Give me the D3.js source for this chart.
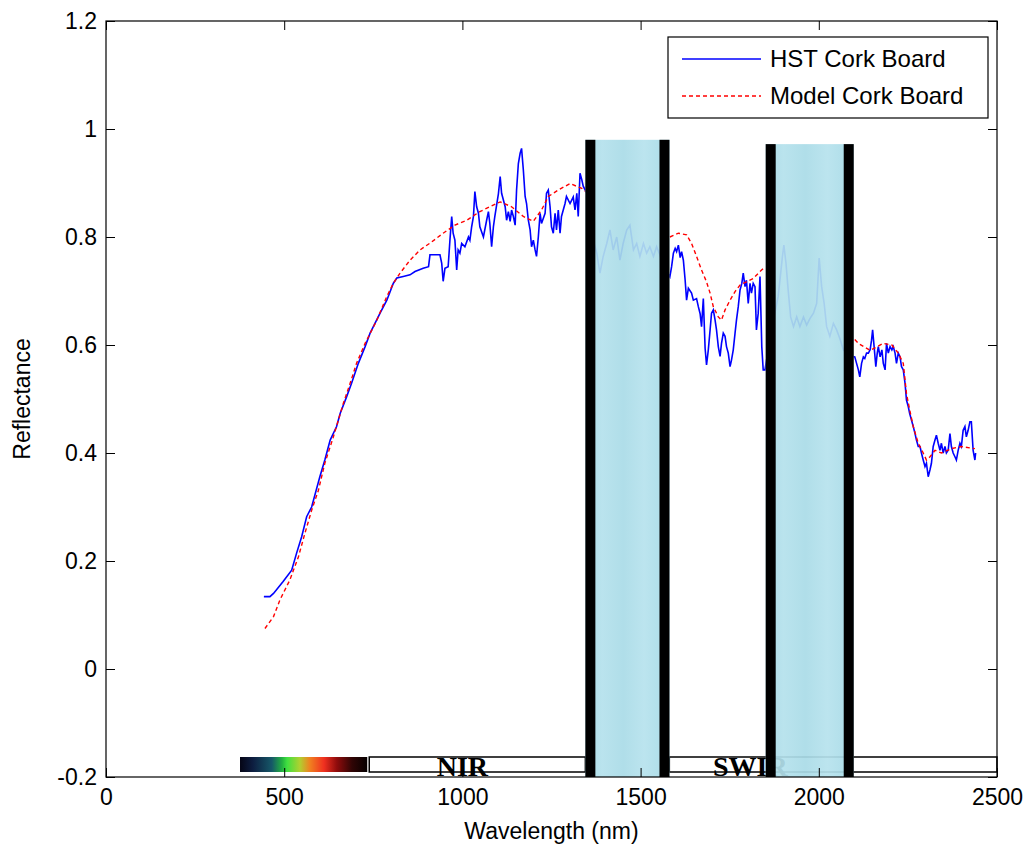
<!DOCTYPE html>
<html>
<head>
<meta charset="utf-8">
<script src="https://cdn.jsdelivr.net/npm/d3@7"></script>
<style>
  body { margin: 0; background: #fff; }
  svg text { font-family: "Liberation Sans", Arial, sans-serif; }
</style>
</head>
<body>
<div class="chart"></div>
<script>
// measured spectrum (HST) - wavelength in nm, reflectance
const hstWl = [443,460,470,497,521,535,549,563,577,600,614,629,647,657,675,689,708,727,741,769,788,806,816,834,853,867,890,905,909,937,942,946,951,960,965,970,974,979,984,988,993,998,1007,1017,1021,1026,1031,1035,1040,1045,1049,1059,1068,1073,1077,1082,1087,1091,1096,1101,1106,1110,1120,1124,1129,1134,1138,1143,1148,1152,1157,1162,1166,1171,1176,1180,1185,1190,1194,1199,1204,1208,1213,1218,1222,1232,1236,1241,1246,1250,1255,1260,1264,1269,1274,1278,1288,1292,1302,1311,1316,1321,1325,1330,1335,1339,1350,1365,
  1377,1386,1395,1405,1414,1423,1433,1442,1451,1461,1470,1480,1489,1498,1508,1517,1526,1536,1545,1554,1570,
  1582,1587,1592,1597,1601,1606,1611,1615,1620,1625,1629,1634,1643,1648,1657,1662,1667,1671,1676,1681,1685,1690,1695,1699,1704,1709,1713,1718,1723,1727,1732,1737,1741,1746,1751,1755,1760,1765,1769,1774,1779,1784,1788,1793,1797,1802,1807,1811,1816,1821,1825,1830,1835,1840,1844,1849,1865,
  1886,1891,1898,1902,1908,1914,1921,1929,1938,1947,1957,1966,1975,1985,1994,2001,2008,2015,2022,2031,2041,2050,2059,2069,2085,
  2101,2106,2111,2115,2120,2125,2129,2134,2139,2144,2148,2151,2156,2160,2164,2167,2172,2177,2181,2186,2190,2195,2200,2205,2209,2214,2218,2223,2228,2232,2237,2242,2246,2251,2255,2260,2265,2270,2274,2279,2284,2288,2293,2298,2302,2307,2312,2316,2321,2326,2330,2335,2340,2344,2349,2354,2358,2363,2368,2372,2377,2382,2386,2391,2396,2400,2405,2410,2414,2419,2424,2428,2433,2438,2440];
const hstRefl = [0.134,0.134,0.14,0.162,0.183,0.215,0.245,0.282,0.30,0.356,0.387,0.424,0.449,0.473,0.504,0.529,0.566,0.597,0.622,0.659,0.683,0.714,0.724,0.727,0.73,0.736,0.742,0.745,0.767,0.767,0.751,0.718,0.742,0.745,0.794,0.838,0.807,0.794,0.739,0.776,0.77,0.788,0.782,0.80,0.794,0.819,0.838,0.884,0.856,0.844,0.819,0.80,0.831,0.847,0.825,0.782,0.819,0.838,0.859,0.88,0.912,0.881,0.856,0.831,0.847,0.829,0.85,0.838,0.822,0.887,0.936,0.955,0.964,0.924,0.875,0.862,0.831,0.813,0.782,0.794,0.776,0.764,0.80,0.844,0.825,0.844,0.881,0.887,0.856,0.819,0.807,0.844,0.813,0.85,0.807,0.838,0.862,0.875,0.862,0.874,0.85,0.881,0.838,0.918,0.906,0.894,0.88,0.80,
  0.77,0.733,0.764,0.788,0.813,0.776,0.80,0.757,0.788,0.813,0.822,0.776,0.788,0.764,0.788,0.77,0.782,0.764,0.782,0.767,0.74,
  0.726,0.745,0.77,0.779,0.773,0.785,0.762,0.773,0.757,0.72,0.683,0.705,0.696,0.683,0.686,0.671,0.658,0.634,0.686,0.594,0.563,0.591,0.628,0.659,0.665,0.646,0.628,0.597,0.579,0.603,0.622,0.616,0.597,0.585,0.56,0.572,0.591,0.622,0.646,0.671,0.702,0.714,0.733,0.708,0.72,0.677,0.714,0.696,0.714,0.708,0.628,0.659,0.727,0.597,0.554,0.554,0.62,
  0.69,0.72,0.764,0.785,0.751,0.702,0.652,0.634,0.652,0.634,0.652,0.637,0.649,0.659,0.677,0.761,0.708,0.677,0.634,0.616,0.64,0.628,0.612,0.591,0.58,
  0.578,0.566,0.554,0.541,0.566,0.578,0.575,0.585,0.585,0.591,0.609,0.628,0.591,0.56,0.585,0.597,0.578,0.591,0.566,0.554,0.603,0.585,0.597,0.591,0.597,0.585,0.566,0.585,0.578,0.56,0.554,0.529,0.498,0.486,0.473,0.461,0.449,0.436,0.424,0.412,0.412,0.40,0.387,0.375,0.381,0.356,0.369,0.381,0.412,0.424,0.433,0.418,0.405,0.418,0.40,0.412,0.40,0.405,0.436,0.412,0.40,0.393,0.387,0.405,0.418,0.412,0.442,0.449,0.43,0.442,0.458,0.458,0.405,0.387,0.40];

// model spectrum, null = not plotted (water bands)
const modelWl = [446,470,488,516,540,558,577,596,614,638,666,685,703,727,760,788,806,825,853,881,914,946,979,1012,1049,1077,1106,1138,1171,1199,1222,1241,1269,1302,1335,1345,1460,
  1582,1606,1629,1643,1657,1671,1685,1695,1704,1718,1727,1737,1751,1765,1779,1797,1816,1835,1845,1970,
  2101,2111,2144,2181,2205,2223,2237,2246,2255,2265,2279,2293,2302,2312,2326,2344,2372,2400,2438];
const modelRefl = [0.075,0.097,0.128,0.165,0.208,0.251,0.294,0.331,0.381,0.43,0.492,0.529,0.566,0.603,0.646,0.69,0.714,0.733,0.757,0.776,0.791,0.807,0.822,0.831,0.847,0.856,0.865,0.856,0.838,0.829,0.85,0.875,0.887,0.899,0.89,0.885,null,
  0.80,0.807,0.804,0.788,0.764,0.739,0.717,0.696,0.671,0.652,0.646,0.665,0.683,0.699,0.711,0.717,0.723,0.736,0.742,null,
  0.61,0.603,0.59,0.603,0.60,0.585,0.566,0.51,0.48,0.449,0.418,0.40,0.387,0.393,0.405,0.40,0.408,0.412,0.408];

// water absorption bands [start nm, end nm, top reflectance]
const bandStart = [1345, 1851];
const bandEnd = [1581, 2098];
const bandTop = [0.98, 0.972];

// spectral region boxes along the bottom
const visRange = [376, 733];
const nirRange = [733, 1345];
const swirRange = [1575, 2500];

const xTicks = [0, 500, 1000, 1500, 2000, 2500];
const yTicks = [-0.2, 0, 0.2, 0.4, 0.6, 0.8, 1, 1.2];
const seriesNames = ["HST Cork Board", "Model Cork Board"];

let svg, xScale, yScale;
const W = 1027, H = 848;
const mL = 106, mR = 997, mT = 21, mB = 777;

const createSVG = () => {
  svg = d3.select(".chart").append("svg")
    .attr("width", W).attr("height", H);
  svg.append("rect").attr("width", W).attr("height", H).attr("fill", "#fff");

  const defs = svg.append("defs");
  const spec = defs.append("linearGradient").attr("id", "spectrum");
  [[0, "#050515"], [0.1, "#0d1d40"], [0.25, "#165868"], [0.33, "#22b040"], [0.37, "#40e040"],
   [0.47, "#b0d030"], [0.55, "#f08020"], [0.66, "#f03020"], [0.76, "#900c0c"], [0.88, "#300505"], [1, "#050000"]]
    .forEach(s => spec.append("stop").attr("offset", s[0]).attr("stop-color", s[1]));
  const water = defs.append("linearGradient").attr("id", "water");
  [[0, "#a3d8e5"], [0.2, "#b4e1ec"], [0.45, "#a9dbe7"], [0.7, "#b6e2ed"], [1, "#a4d9e6"]]
    .forEach(s => water.append("stop").attr("offset", s[0]).attr("stop-color", s[1]));
}

const createScales = () => {
  xScale = d3.scaleLinear().domain([0, 2500]).range([mL, mR]);
  yScale = d3.scaleLinear().domain([-0.2, 1.2]).range([mB, mT]);
}

const createRegions = () => {
  const g = svg.append("g").attr("class", "regions");
  const ry = 757, rh = 15;
  g.append("rect")
    .attr("x", xScale(visRange[0])).attr("y", ry)
    .attr("width", xScale(visRange[1]) - xScale(visRange[0])).attr("height", rh)
    .attr("fill", "url(#spectrum)");
  [nirRange, swirRange].forEach(r => {
    g.append("rect")
      .attr("x", xScale(r[0]) + 2).attr("y", ry)
      .attr("width", xScale(r[1]) - xScale(r[0]) - 2).attr("height", rh)
      .attr("fill", "#fff").attr("stroke", "#000").attr("stroke-width", 1.5);
  });
  g.append("text")
    .attr("x", xScale(1000)).attr("y", 776)
    .attr("text-anchor", "middle")
    .style("font-family", "'Liberation Serif', 'Times New Roman', serif")
    .style("font-weight", "bold").style("font-size", "28px")
    .text("NIR");
  g.append("text")
    .attr("x", 713).attr("y", 776)
    .style("font-family", "'Liberation Serif', 'Times New Roman', serif")
    .style("font-weight", "bold").style("font-size", "28px")
    .text("SWIR");
}

const createLines = () => {
  const hst = hstWl.map((w, i) => [w, hstRefl[i]]);
  const model = modelWl.map((w, i) => [w, modelRefl[i]]);
  const line = d3.line()
    .defined(d => d[1] != null)
    .x(d => xScale(d[0])).y(d => yScale(d[1]));

  svg.append("path").datum(hst)
    .attr("d", line).attr("fill", "none")
    .attr("stroke", "#0000ff").attr("stroke-width", 1.6)
    .attr("stroke-linejoin", "miter");
  svg.append("path").datum(model)
    .attr("d", line).attr("fill", "none")
    .attr("stroke", "#ff0000").attr("stroke-width", 1.4)
    .attr("stroke-dasharray", "4,3");
}

const createBands = () => {
  const edge = 10;
  bandStart.forEach((s, i) => {
    const x0 = xScale(s), x1 = xScale(bandEnd[i]), yt = yScale(bandTop[i]);
    const g = svg.append("g").attr("class", "band");
    g.append("rect")
      .attr("x", x0).attr("y", yt).attr("width", x1 - x0).attr("height", mB - yt)
      .attr("fill", "url(#water)").attr("fill-opacity", 0.92);
    g.append("rect")
      .attr("x", x0).attr("y", yt).attr("width", edge).attr("height", mB - yt)
      .attr("fill", "#000");
    g.append("rect")
      .attr("x", x1 - edge).attr("y", yt).attr("width", edge).attr("height", mB - yt)
      .attr("fill", "#000");
  });
}

const fmt = d => String(+d.toFixed(1));

const createAxis = () => {
  const fs = "23px";
  svg.append("g")
    .attr("transform", `translate(0, ${mB})`)
    .call(d3.axisBottom(xScale).tickValues(xTicks).tickSizeInner(-9).tickSizeOuter(0).tickPadding(12).tickFormat(d => d))
    .call(g => g.select(".domain").remove())
    .call(g => g.selectAll("text").style("font-size", fs).attr("fill", "#000").style("font-family", "'Liberation Sans', Arial, sans-serif"));
  svg.append("g")
    .attr("transform", `translate(0, ${mT})`)
    .call(d3.axisTop(xScale).tickValues(xTicks).tickSizeInner(-9).tickSizeOuter(0).tickFormat(""))
    .call(g => g.select(".domain").remove());
  svg.append("g")
    .attr("transform", `translate(${mL}, 0)`)
    .call(d3.axisLeft(yScale).tickValues(yTicks).tickSizeInner(-9).tickSizeOuter(0).tickPadding(9).tickFormat(fmt))
    .call(g => g.select(".domain").remove())
    .call(g => g.selectAll("text").style("font-size", fs).attr("fill", "#000").style("font-family", "'Liberation Sans', Arial, sans-serif"));
  svg.append("g")
    .attr("transform", `translate(${mR}, 0)`)
    .call(d3.axisRight(yScale).tickValues(yTicks).tickSizeInner(-9).tickSizeOuter(0).tickFormat(""))
    .call(g => g.select(".domain").remove());

  svg.append("rect")
    .attr("x", mL).attr("y", mT).attr("width", mR - mL).attr("height", mB - mT)
    .attr("fill", "none").attr("stroke", "#000").attr("stroke-width", 1.2);

  svg.append("text")
    .attr("x", (mL + mR) / 2).attr("y", 839)
    .attr("text-anchor", "middle").style("font-size", fs)
    .text("Wavelength (nm)");
  svg.append("text")
    .attr("transform", `translate(30, ${(mT + mB) / 2}) rotate(-90)`)
    .attr("text-anchor", "middle").style("font-size", fs)
    .text("Reflectance");
}

const createLegend = () => {
  const legend = svg.append("g").attr("id", "legend");
  legend.append("rect")
    .attr("x", 668).attr("y", 37).attr("width", 320).attr("height", 81)
    .attr("fill", "#fff").attr("stroke", "#000").attr("stroke-width", 1.2);
  const items = [
    {y: 59, color: "#0000ff", dash: null},
    {y: 96, color: "#ff0000", dash: "4,3"}
  ];
  items.forEach((it, i) => {
    legend.append("line")
      .attr("x1", 682).attr("x2", 761).attr("y1", it.y).attr("y2", it.y)
      .attr("stroke", it.color).attr("stroke-width", 1.5)
      .attr("stroke-dasharray", it.dash);
    legend.append("text")
      .attr("x", 770).attr("y", it.y + 8)
      .style("font-size", "24px")
      .text(seriesNames[i]);
  });
}

createSVG();
createScales();
createRegions();
createLines();
createBands();
createAxis();
createLegend();
</script>
</body>
</html>
